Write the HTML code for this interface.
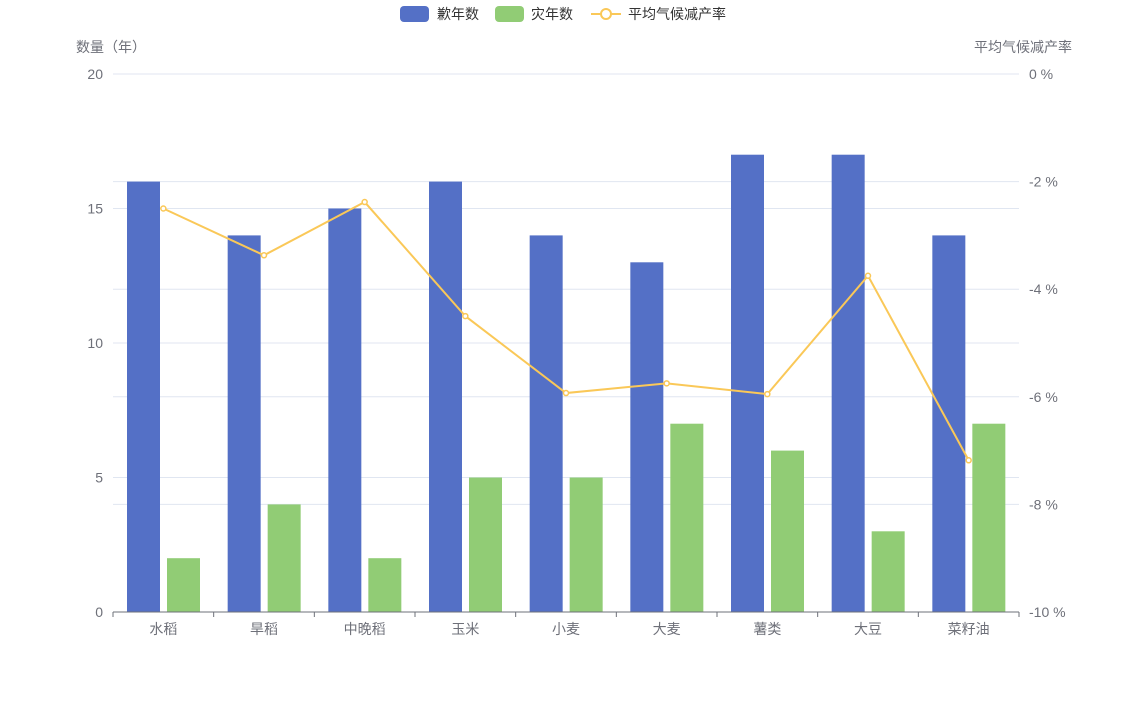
<!DOCTYPE html>
<html><head><meta charset="utf-8"><style>
body{margin:0;background:#fff;}
svg text{font-family:"Liberation Sans","Noto Sans CJK SC",sans-serif;}
</style></head><body>
<svg id="c" width="1132" height="700" xmlns="http://www.w3.org/2000/svg"></svg>
<script>
const categories=["水稻","旱稻","中晚稻","玉米","小麦","大麦","薯类","大豆","菜籽油"];
const bad=[16,14,15,16,14,13,17,17,14];
const disaster=[2,4,2,5,5,7,6,3,7];
const rate=[-2.5,-3.37,-2.38,-4.5,-5.93,-5.75,-5.95,-3.75,-7.18];
const leftTicks=[0,5,10,15,20];
const rightTicks=[0,-2,-4,-6,-8,-10];

const NS="http://www.w3.org/2000/svg";
const svg=document.getElementById('c');
const X0=113,X1=1019,Y0=612,Y1=74;
const bw=(X1-X0)/categories.length;
const yL=v=>Y0-(v/20)*(Y0-Y1);
const yR=v=>Y1+(-v/10)*(Y0-Y1);
function el(t,a,txt){const e=document.createElementNS(NS,t);for(const k in a)e.setAttribute(k,a[k]);if(txt!=null)e.textContent=txt;svg.appendChild(e);return e;}

// grids
rightTicks.forEach(v=>{const y=yR(v);
const g=el('line',{x1:X0,x2:X1,y1:y,y2:y,stroke:'#e0e6f1'});


const t=el('text',{x:1029,y:y+5,'font-size':14,fill:'#6e7079'},v+' %');


});
leftTicks.forEach(v=>{const y=yL(v);
const g=el('line',{x1:X0,x2:X1,y1:y,y2:y,stroke:'#e0e6f1'});


const t=el('text',{x:103,y:y+5,'font-size':14,fill:'#6e7079','text-anchor':'end'},v);


});
// bars
categories.forEach((c,i)=>{
const x=X0+i*bw;
const b1=el('rect',{x:x+14,y:yL(bad[i]),width:33,height:Y0-yL(bad[i]),fill:'#5470c6'});


const b2=el('rect',{x:x+54,y:yL(disaster[i]),width:33,height:Y0-yL(disaster[i]),fill:'#91cc75'});


const t=el('text',{x:x+bw/2,y:634,'font-size':14,fill:'#6e7079','text-anchor':'middle'},c);


const tk=el('line',{x1:x,x2:x,y1:Y0,y2:Y0+5,stroke:'#6e7079'});


});
const lt=el('line',{x1:X1,x2:X1,y1:Y0,y2:Y0+5,stroke:'#6e7079'});


const ax=el('line',{x1:X0,x2:X1,y1:Y0,y2:Y0,stroke:'#6e7079'});


// line
const pts=rate.map((v,i)=>[X0+(i+0.5)*bw,yR(v)]);
const pl=el('polyline',{points:pts.map(p=>p.join(',')).join(' '),fill:'none',stroke:'#fac858','stroke-width':2});


pts.forEach(p=>{const c=el('circle',{cx:p[0],cy:p[1],r:2.5,fill:'#fff',stroke:'#fac858','stroke-width':1.5});

});
// axis names
const n1=el('text',{x:76,y:52,'font-size':14,fill:'#6e7079'},'数量（年）');


const n2=el('text',{x:1072,y:52,'font-size':14,fill:'#6e7079','text-anchor':'end'},'平均气候减产率');


// legend
const r1=el('rect',{x:400,y:6,width:29,height:16,rx:4,fill:'#5470c6'});


const l1=el('text',{x:437,y:19,'font-size':14,fill:'#333'},'歉年数');


const r2=el('rect',{x:495,y:6,width:29,height:16,rx:4,fill:'#91cc75'});


const l2=el('text',{x:531,y:19,'font-size':14,fill:'#333'},'灾年数');


const ll=el('line',{x1:591,x2:621,y1:14,y2:14,stroke:'#fac858','stroke-width':2});


const lc=el('circle',{cx:606,cy:14,r:5,fill:'#fff',stroke:'#fac858','stroke-width':2});


const l3=el('text',{x:628,y:19,'font-size':14,fill:'#333'},'平均气候减产率');


</script>
</body></html>
